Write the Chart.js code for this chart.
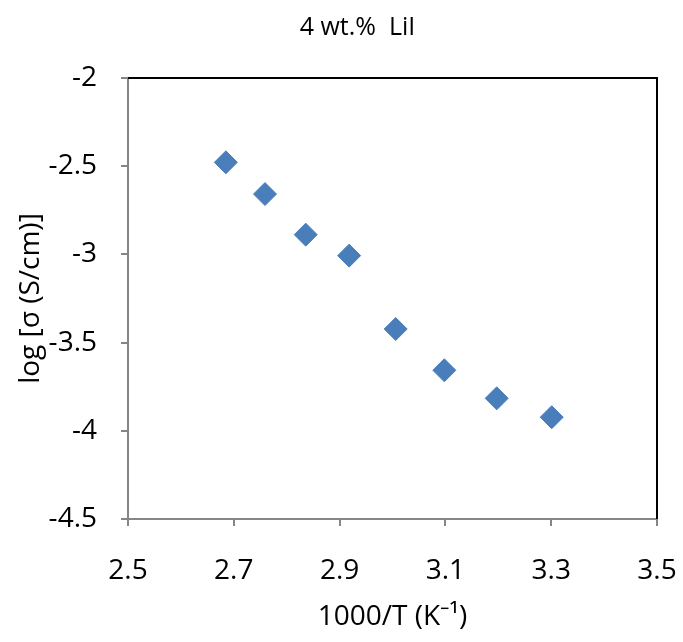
<!DOCTYPE html>
<html>
<head>
<meta charset="utf-8">
<script src="https://cdn.jsdelivr.net/npm/chart.js@4/dist/chart.umd.min.js"></script>
<style>
  html, body { margin: 0; padding: 0; background: #fff; }
  #wrap { width: 683px; height: 642px; }
</style>
</head>
<body>
<div id="wrap"><canvas id="lilChart"></canvas></div>
<script>
// values
const invTemp = [2.685, 2.759, 2.836, 2.918, 3.006, 3.098, 3.197, 3.301];
const logSigma = [-2.478, -2.658, -2.888, -3.007, -3.423, -3.657, -3.816, -3.923];
const xTicks = [2.5, 2.7, 2.9, 3.1, 3.3, 3.5];
const yTicks = [-2, -2.5, -3, -3.5, -4, -4.5];
const chartTitle = '4 wt.%  LiI';

const font = 'Open Sans';

// black frame on top and right of plot area (excel style)
const plotFrame = {
    id: 'plotFrame',
    beforeDatasetsDraw(chart) {
        const a = chart.chartArea;
        const ctx = chart.ctx;
        ctx.save();
        ctx.strokeStyle = '#000';
        ctx.lineWidth = 2;
        ctx.beginPath();
        ctx.moveTo(a.left, a.top);
        ctx.lineTo(a.right, a.top);
        ctx.lineTo(a.right, a.bottom);
        ctx.stroke();
        ctx.restore();
    }
};

// chart title, sits a bit left of plot centre like the excel original
const topTitle = {
    id: 'topTitle',
    afterDraw(chart) {
        const a = chart.chartArea;
        const ctx = chart.ctx;
        ctx.save();
        ctx.fillStyle = '#000';
        ctx.font = '25px "' + font + '"';
        ctx.textAlign = 'center';
        ctx.textBaseline = 'middle';
        ctx.fillText(chartTitle, (a.left + a.right) / 2 - 35, 28);
        ctx.restore();
    }
};

const ctx = document.getElementById('lilChart');
new Chart(ctx, {
    type: 'scatter',
    data: {
        datasets: [{
            label: chartTitle,
            data: invTemp.map((x, i) => ({ x: x, y: logSigma[i] })),
            pointStyle: 'rectRot',
            pointRadius: 11.5,
            pointHoverRadius: 11.5,
            backgroundColor: '#4a7ebb',
            borderColor: '#4a7ebb',
            borderWidth: 1
        }]
    },
    options: {
        responsive: true,
        maintainAspectRatio: false,
        animation: false,
        layout: { padding: { left: 0, right: 26, top: 78, bottom: 0 } },
        plugins: {
            legend: { display: false },
            tooltip: { enabled: false },
            title: { display: false }
        },
        scales: {
            x: {
                type: 'linear',
                min: 2.5,
                max: 3.5,
                afterBuildTicks: axis => { axis.ticks = xTicks.map(v => ({ value: v })); },
                afterFit: axis => {
                    axis.height = 123;
                    axis.paddingLeft = 0;
                    axis.paddingRight = 0;
                },
                grid: { drawOnChartArea: false, drawTicks: true, tickLength: 7, color: '#868686', lineWidth: 2 },
                border: { color: '#868686', width: 2 },
                ticks: {
                    color: '#000', padding: 28, maxRotation: 0,
                    font: { family: font, size: 28 },
                    callback: v => String(v)
                },
                title: {
                    display: true,
                    text: '1000/T (K\u207B\u00B9)',
                    color: '#000',
                    font: { family: font, size: 28, lineHeight: 1.2 },
                    padding: { top: 0, bottom: 8 }
                }
            },
            y: {
                type: 'linear',
                min: -4.5,
                max: -2,
                afterBuildTicks: axis => { axis.ticks = yTicks.map(v => ({ value: v })); },
                afterFit: axis => {
                    axis.width = 128;
                    axis.paddingTop = 0;
                    axis.paddingBottom = 0;
                },
                grid: { drawOnChartArea: false, drawTicks: true, tickLength: 7, color: '#868686', lineWidth: 2 },
                border: { color: '#868686', width: 2 },
                ticks: {
                    color: '#000', padding: 24,
                    font: { family: font, size: 28 },
                    callback: v => String(v)
                },
                title: {
                    display: true,
                    text: 'log [\u03C3 (S/cm)]',
                    color: '#000',
                    font: { family: font, size: 28, lineHeight: 1.2 },
                    padding: { top: 14, bottom: 0 }
                }
            }
        }
    },
    plugins: [plotFrame, topTitle]
});
</script>
</body>
</html>
